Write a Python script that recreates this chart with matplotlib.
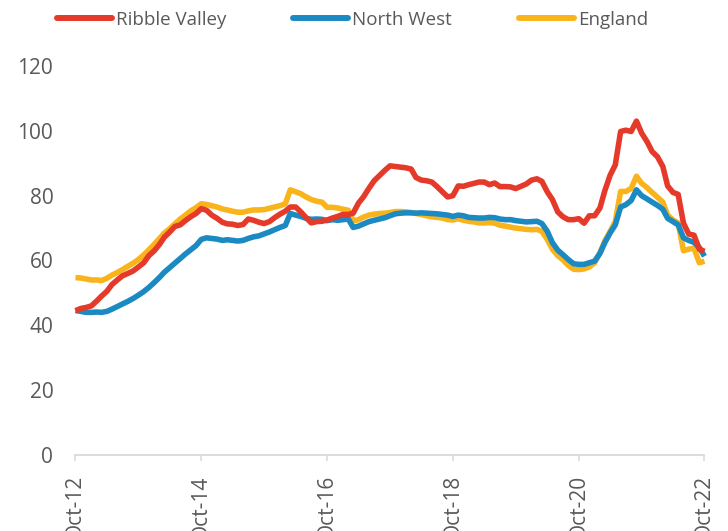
import pandas as pd
import matplotlib
matplotlib.use("Agg")
import matplotlib.pyplot as plt
import matplotlib.dates as mdates

plt.rcParams['font.family'] = ['Open Sans', 'DejaVu Sans']

# monthly index, Oct-12 .. Oct-22
dates = pd.date_range('2012-10-01', periods=121, freq='MS')

ribble_valley = [
    44.5, 45.2, 45.5, 46.0, 47.5, 49.0, 50.5, 52.6, 54.0, 55.3, 56.0, 56.8,
    58.0, 59.3, 61.5, 63.0, 65.0, 67.2, 68.8, 70.5, 71.0, 72.3, 73.5, 74.5,
    76.0, 75.5, 74.0, 73.0, 71.8, 71.3, 71.2, 70.8, 71.1, 72.8, 72.4, 71.8,
    71.4, 72.0, 73.2, 74.3, 75.2, 76.5, 76.5, 75.0, 73.2, 71.6, 72.0, 72.1,
    72.5, 73.1, 73.6, 74.2, 74.2, 74.6, 77.7, 79.7, 82.3, 84.6, 86.2, 87.8,
    89.2, 89.0, 88.8, 88.6, 88.2, 85.6, 84.8, 84.6, 84.2, 82.8, 81.2, 79.6,
    80.0, 83.0, 82.9, 83.4, 83.8, 84.2, 84.2, 83.4, 83.9, 82.8, 82.8, 82.7,
    82.2, 82.9, 83.6, 84.8, 85.2, 84.4, 81.2, 78.8, 75.0, 73.5, 72.6, 72.6,
    72.9, 71.5, 73.8, 73.8, 76.2, 81.5, 86.3, 89.5, 99.8, 100.2, 99.8, 103.0,
    99.3, 96.7, 93.6, 92.0, 89.0, 83.0, 81.0, 80.4, 71.5, 68.2, 67.8, 63.5,
    62.8,
]

north_west = [
    44.6, 44.3, 44.0, 44.0, 44.1, 44.0, 44.3, 45.0, 45.8, 46.6, 47.4, 48.3,
    49.3, 50.4, 51.7, 53.2, 54.8, 56.4, 57.8, 59.2, 60.6, 62.0, 63.3, 64.6,
    66.5, 67.0, 66.8, 66.6, 66.2, 66.4, 66.2, 66.0, 66.2, 66.8, 67.3, 67.6,
    68.2, 68.8, 69.5, 70.2, 70.8, 74.5, 74.0, 73.6, 73.0, 72.7, 72.8, 72.7,
    72.3, 72.6, 72.4, 72.6, 72.8, 70.2, 70.6, 71.3, 72.0, 72.4, 72.8, 73.2,
    73.8, 74.4, 74.6, 74.7, 74.7, 74.6, 74.7, 74.6, 74.5, 74.4, 74.2, 74.0,
    73.6, 74.0, 73.8, 73.3, 73.2, 73.1, 73.1, 73.3, 73.2, 72.8, 72.6, 72.6,
    72.3, 72.1, 71.9, 72.0, 72.1, 71.4, 69.0, 65.5, 63.2, 61.8, 60.3, 59.0,
    58.8, 58.8, 59.3, 59.8, 62.2, 65.5, 68.5, 71.0, 76.5, 77.2, 78.5, 81.8,
    80.0, 79.0, 78.0, 77.0, 75.8, 73.0, 72.0, 71.0, 67.0, 66.2, 65.6, 64.0,
    61.3,
]

england = [
    54.7, 54.6, 54.3, 54.0, 54.0, 53.8, 54.5, 55.5, 56.3, 57.2, 58.2, 59.2,
    60.3, 61.7, 63.3, 65.0, 66.8, 68.5, 69.8, 71.3, 72.8, 74.0, 75.3, 76.3,
    77.5, 77.3, 76.9, 76.5, 75.9, 75.6, 75.2, 74.9, 74.9, 75.3, 75.6, 75.6,
    75.7, 76.1, 76.5, 76.9, 77.5, 81.8, 81.2, 80.6, 79.6, 78.8, 78.3, 78.0,
    76.4, 76.4, 76.2, 75.8, 75.5, 72.2, 72.6, 73.4, 74.0, 74.3, 74.5, 74.6,
    74.8, 75.1, 75.1, 75.0, 74.8, 74.5, 74.2, 73.8, 73.5, 73.3, 73.1, 72.6,
    72.5, 72.9, 72.4, 72.1, 71.9, 71.6, 71.6, 71.7, 71.5, 70.9, 70.6, 70.3,
    70.0, 69.8, 69.6, 69.5, 69.6, 69.0, 66.5, 63.5, 61.5, 60.2, 58.5, 57.3,
    57.2, 57.4, 58.0, 59.3, 62.4, 66.0, 69.0, 72.0, 81.3, 81.3, 82.2, 86.0,
    83.8, 82.5, 81.0, 79.5, 78.0, 74.0, 72.5, 71.6, 63.0, 63.5, 63.8, 59.3,
    59.8,
]

series = [
    ("Ribble Valley", ribble_valley, "#E5392A"),
    ("North West", north_west, "#1B8AC3"),
    ("England", england, "#FAB41B"),
]

GREY = "#595959"
AXIS = "#D9D9D9"

fig = plt.figure(figsize=(7.28, 5.31), dpi=100)
ax = fig.add_axes([75.5 / 728, 1 - 455 / 531, 629 / 728, 389 / 531])

# England drawn first so the others sit on top, as in the source
for name, vals, col in reversed(series):
    ax.plot(dates, vals, color=col, linewidth=4.0, label=name,
            solid_capstyle='butt', solid_joinstyle='round', clip_on=False)

ax.set_xlim(dates[0], dates[-1])
ax.set_ylim(0, 120)
ax.set_yticks(range(0, 121, 20))

ax.xaxis.set_major_locator(mdates.YearLocator(2, month=10, day=1))
ax.xaxis.set_major_formatter(mdates.DateFormatter('%b-%y'))

for s in ['top', 'right', 'left']:
    ax.spines[s].set_visible(False)
ax.spines['bottom'].set_color(AXIS)
ax.spines['bottom'].set_linewidth(1.3)

ax.tick_params(axis='y', length=0, pad=16, labelsize=15, labelcolor=GREY)
ax.tick_params(axis='x', length=4.5, width=1.1, color=AXIS, pad=10,
               labelsize=15, labelcolor=GREY, labelrotation=90)

handles, labels = ax.get_legend_handles_labels()
leg = fig.legend(handles[::-1], labels[::-1], loc='center',
                 bbox_to_anchor=(352.5 / 728, 1 - 20 / 531), ncol=3,
                 frameon=False, fontsize=13.5, handlelength=2.93,
                 handletextpad=0.2, columnspacing=3.6, labelcolor=GREY)
for line in leg.get_lines():
    line.set_linewidth(4.3)
    line.set_solid_capstyle('round')

fig.savefig('out.png', dpi=100)
